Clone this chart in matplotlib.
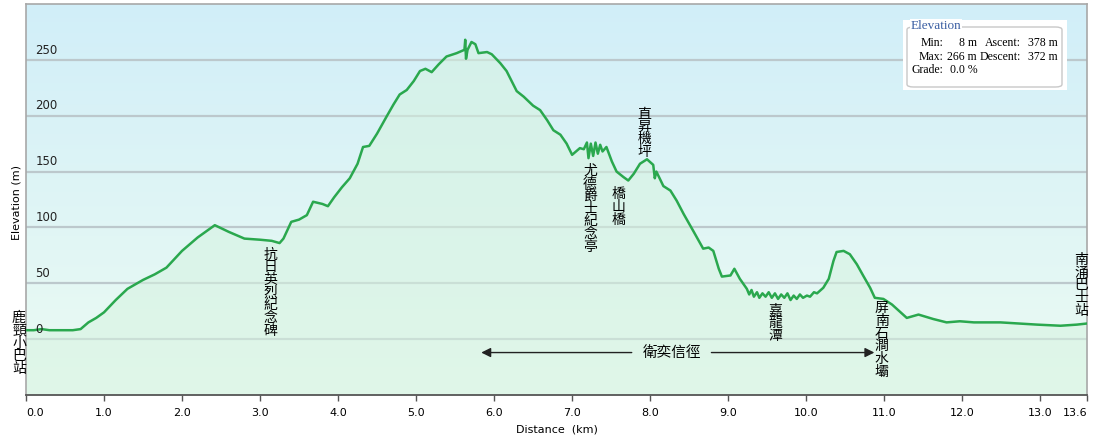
import numpy as np
import matplotlib
matplotlib.use('Agg')
from matplotlib import pyplot as plt
from matplotlib.patches import FancyBboxPatch, Rectangle

plt.rcParams['font.family'] = ['DejaVu Sans']

# elevation profile (km, m)
dist_km = [0.00, 0.10, 0.20, 0.30, 0.40, 0.50, 0.60, 0.70, 0.80, 0.90,
           1.00, 1.15, 1.30, 1.50, 1.65, 1.80, 2.00, 2.20, 2.42, 2.60,
           2.80, 3.00, 3.15, 3.25, 3.30, 3.40, 3.50, 3.60, 3.68, 3.80,
           3.87, 3.95, 4.05, 4.15, 4.25, 4.32, 4.40, 4.50, 4.62, 4.71,
           4.79, 4.88, 4.97, 5.05, 5.12, 5.20, 5.29, 5.39, 5.52, 5.62,
           5.63, 5.64, 5.66, 5.71, 5.76, 5.80, 5.91, 5.97, 6.08, 6.16,
           6.29, 6.38, 6.50, 6.59, 6.68, 6.76, 6.85, 6.93, 7.00, 7.10,
           7.15, 7.19, 7.21, 7.24, 7.27, 7.30, 7.33, 7.36, 7.39, 7.44,
           7.51, 7.57, 7.66, 7.72, 7.79, 7.87, 7.96, 8.04, 8.06, 8.08,
           8.17, 8.26, 8.34, 8.43, 8.56, 8.68, 8.75, 8.81, 8.88, 8.92,
           9.03, 9.08, 9.15, 9.24, 9.27, 9.30, 9.33, 9.37, 9.40, 9.44,
           9.48, 9.52, 9.56, 9.60, 9.64, 9.68, 9.72, 9.76, 9.80, 9.84,
           9.88, 9.92, 9.96, 10.01, 10.05, 10.10, 10.14, 10.22,
           10.29, 10.35, 10.39, 10.48, 10.56, 10.65, 10.73, 10.82, 10.88, 10.99,
           11.10, 11.21, 11.29, 11.44, 11.63, 11.80, 11.97, 12.15, 12.49, 12.96,
           13.26, 13.47, 13.60]
elev_m = [8, 8, 9, 8, 8, 8, 8, 9, 15, 19,
          24, 35, 45, 53, 58, 64, 79, 91, 102, 96,
          90, 89, 88, 86, 90, 105, 107, 111, 123, 121,
          119, 127, 136, 144, 157, 172, 173, 184, 199, 210,
          219, 223, 231, 240, 242, 239, 246, 253, 256, 259,
          268, 251, 259, 266, 264, 256, 257, 255, 247, 240,
          222, 217, 209, 205, 196, 187, 183, 175, 165, 171,
          170, 176, 162, 175, 164, 176, 166, 174, 168, 172,
          159, 150, 145, 142, 148, 157, 161, 156, 144, 150,
          137, 133, 124, 112, 96, 81, 82, 79, 63, 56,
          57, 63, 54, 45, 40, 44, 38, 42, 37, 41,
          38, 42, 37, 41, 36, 40, 37, 41, 35, 39,
          36, 40, 37, 39, 38, 42, 41, 46,
          54, 70, 78, 79, 76, 67, 57, 46, 37, 36,
          31, 24, 19, 22, 18, 15, 16, 15, 15, 13,
          12, 13, 14]

x_ticks = [0, 1, 2, 3, 4, 5, 6, 7, 8, 9, 10, 11, 12, 13, 13.6]
x_tick_labels = ['0.0', '1.0', '2.0', '3.0', '4.0', '5.0', '6.0', '7.0',
                 '8.0', '9.0', '10.0', '11.0', '12.0', '13.0', '13.6']
y_ticks = [0, 50, 100, 150, 200, 250]

# waypoint names and where they sit (km, top of the vertical text in m)
poi_names = ['鹿頸小巴站', '抗日英烈紀念碑', '尤德爵士紀念亭', '橋山橋',
             '直昇機坪', '嘉龍潭', '屏南石澗水壩', '南涌巴士站']
poi_km = [-0.09, 3.13, 7.23, 7.60, 7.93, 9.60, 10.97, 13.53]
poi_top = [25, 82, 157, 136, 208, 32, 34, 77]

trail_name = '衛奕信徑'
trail_start, trail_end = 5.80, 10.91

stats_labels = [['Min:', '8 m', 'Ascent:', '378 m'],
                ['Max:', '266 m', 'Descent:', '372 m']]
grade_text = ['Grade:', '0.0 %']

cjk = ['Noto Sans CJK TC', 'DejaVu Sans']
line_col = '#2aa84e'

fig = plt.figure(figsize=(10.94, 4.41), dpi=100)
ax = fig.add_axes([26 / 1094, 46 / 441, 1061 / 1094, 391 / 441])
xmin, xmax, ymin, ymax = 0, 13.6, -50, 300
ax.set_xlim(xmin, xmax)
ax.set_ylim(ymin, ymax)

# background gradient blue -> pale green
grad = np.linspace(0, 1, 256).reshape(-1, 1)
top_c = np.array([0.82, 0.935, 0.975])
bot_c = np.array([0.925, 0.985, 0.95])
img = top_c * (1 - grad[..., None]) + bot_c * grad[..., None]
ax.imshow(img, extent=[xmin, xmax, ymin, ymax], aspect='auto', zorder=0)

for v in y_ticks:
    ax.axhline(v, color='#bcc8cc', lw=1.6, zorder=1)
    ax.text(0.12, v + 3, str(v), fontsize=8.5, color='#222222', va='bottom', ha='left', zorder=5)

ax.fill_between(dist_km, elev_m, ymin, color='#d6f3e0', alpha=0.55, zorder=2, lw=0)
ax.plot(dist_km, elev_m, color=line_col, lw=1.8, zorder=3)

for name, xk, yt in zip(poi_names, poi_km, poi_top):
    ax.text(xk, yt, '\n'.join(name), fontsize=10, family=cjk, ha='center', va='top',
            linespacing=0.88, color='black', zorder=6, clip_on=False)

# trail arrows
ax.annotate('', xy=(trail_start, -12), xytext=(7.80, -12),
            arrowprops=dict(arrowstyle='-|>', color='#222222', lw=1, mutation_scale=14), zorder=6)
ax.annotate('', xy=(trail_end, -12), xytext=(8.75, -12),
            arrowprops=dict(arrowstyle='-|>', color='#222222', lw=1, mutation_scale=14), zorder=6)
ax.text((7.80 + 8.75) / 2, -12, trail_name, fontsize=10.5, family=cjk, ha='center', va='center', zorder=6)

ax.set_xticks(x_ticks)
ax.set_xticklabels(x_tick_labels, fontsize=8)
ax.get_xticklabels()[0].set_horizontalalignment('left')
ax.get_xticklabels()[-1].set_horizontalalignment('right')
ax.set_yticks([])
ax.tick_params(axis='x', length=4, width=1, color='#555555', pad=5)
for s in ['top', 'right', 'left']:
    ax.spines[s].set_color('#a8a8a8')
    ax.spines[s].set_linewidth(1.2)
ax.spines['bottom'].set_color('#555555')
ax.spines['bottom'].set_linewidth(1.3)

ax.set_xlabel('Distance  (km)', fontsize=8, labelpad=5)
fig.text(17 / 1094, 1 - 203 / 441, 'Elevation (m)', rotation=90, fontsize=8, ha='center', va='center')

# stats box
def fx(px):
    return px / 1094
def fy(py):
    return 1 - py / 441

fig.patches.append(Rectangle((fx(903), fy(90)), fx(164), 70 / 441, transform=fig.transFigure,
                             facecolor='white', edgecolor='none', zorder=10))
fig.patches.append(FancyBboxPatch((fx(907), fy(87)), fx(155), 60 / 441, transform=fig.transFigure,
                                  boxstyle='round,pad=0,rounding_size=0.006', facecolor='white',
                                  edgecolor='#c8c8c8', lw=1, zorder=11))
serif = 'Liberation Serif'
fs = 8.5
fig.text(fx(911), fy(26), 'Elevation', fontsize=9.5, family=serif, color='#3b5fa3', ha='left', va='center',
         zorder=12, bbox=dict(facecolor='white', edgecolor='none', pad=0.5))
col_x = [943, 977, 1021, 1058]
for row, py in zip(stats_labels, [43, 57]):
    for txt, px in zip(row, col_x):
        fig.text(fx(px), fy(py), txt, fontsize=fs, family=serif, ha='right', va='center', zorder=12)
fig.text(fx(943), fy(70), grade_text[0], fontsize=fs, family=serif, ha='right', va='center', zorder=12)
fig.text(fx(950), fy(70), grade_text[1], fontsize=fs, family=serif, ha='left', va='center', zorder=12)

fig.savefig('out.png', dpi=100)
